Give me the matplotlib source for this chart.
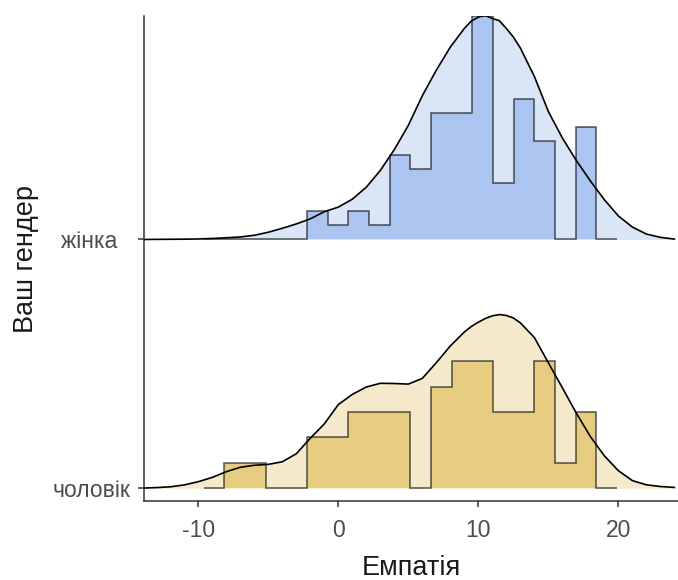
import numpy as np
import matplotlib
matplotlib.use("Agg")
import matplotlib.pyplot as plt

plt.rcParams['font.family'] = ['Liberation Sans', 'DejaVu Sans']
plt.rcParams['axes.unicode_minus'] = False

# groups, bottom to top
groups = ['чоловік', 'жінка  ']

# histogram bins (20 bins over the empathy range)
bin_lo = -9.62
bin_hi = 19.91
n_bins = 20

# counts per bin
counts_m = [0, 1, 1, 0, 0, 2, 2, 3, 3, 3, 0, 4, 5, 5, 3, 3, 5, 1, 3, 0]
counts_f = [0, 0, 0, 0, 0, 2, 1, 2, 1, 6, 5, 9, 9, 16, 4, 10, 7, 0, 8, 0]

# density curves, relative to the tallest ridge (peak = dens_peak)
dens_x = [-14, -13, -12, -11, -10, -9, -8, -7, -6, -5, -4, -3, -2, -1, 0, 1, 2, 3, 4,
          5, 6, 7, 8, 9, 9.5, 10, 10.5, 11, 11.5, 12, 12.5, 13, 14, 15, 16, 17, 18, 19,
          20, 21, 22, 23, 24]
dens_m = [0.2, 0.7, 1.5, 3.4, 6.6, 10.9, 16.6, 21.0, 23.0, 23.9, 26.5, 34.5, 50.0, 64.3,
          83.6, 93.7, 101.1, 104.8, 104.6, 104.0, 109.7, 125.4, 142.1, 156.0, 161.5, 165.8,
          169.5, 172.1, 173.4, 172.5, 170.0, 165.1, 150.5, 125.3, 100.3, 75.0, 51.7, 32.4,
          17.6, 7.7, 3.5, 1.8, 0.9]
dens_f = [0.0, 0.1, 0.2, 0.3, 0.5, 1.0, 1.7, 2.5, 4.2, 7.2, 11.2, 15.5, 20.6, 27.7, 32.3,
          40.2, 52.2, 68.9, 89.7, 113.9, 143.5, 169.0, 192.0, 210.6, 218.0, 221.9, 223.5,
          220.5, 218.3, 210.6, 202.0, 191.1, 162.7, 127.7, 101.3, 78.8, 58.4, 39.7, 23.5,
          12.4, 5.4, 2.1, 0.4]
dens_peak = 223.5

col_dens = ['#F4EACB', '#DAE5F7']
col_hist = ['#E6CC80', '#ABC4F0']
ridge_scale = 0.9

edges = np.linspace(bin_lo, bin_hi, n_bins + 1)
bw = edges[1] - edges[0]
hist_dens = [np.array(c) / (sum(c) * bw) for c in (counts_m, counts_f)]
hist_max = max(h.max() for h in hist_dens)

fig = plt.figure(figsize=(6.78, 5.8), dpi=100)
ax = fig.add_axes([0.2128, 0.1362, 0.7872, 0.8362])

for i, (hd, dn) in enumerate(zip(hist_dens, (dens_m, dens_f))):
    base = i + 1
    h = hd / hist_max * ridge_scale
    d = np.array(dn) / dens_peak * ridge_scale
    ax.fill_between(dens_x, base, base + d, color=col_dens[i], lw=0, zorder=1)
    ax.stairs(base + h, edges, baseline=base, fill=True, color=col_hist[i], lw=0, zorder=2)
    ax.stairs(base + h, edges, baseline=base, fill=False, color='black', alpha=0.65,
              lw=1.1, zorder=3)
    ax.plot(dens_x, base + d, color='black', lw=1.2, zorder=4)

ax.set_xlim(-13.86, 24.26)
ax.set_ylim(0.949, 2.898)
ax.set_xticks([-10, 0, 10, 20])
ax.set_yticks([1, 2])
ax.set_yticklabels(groups)

for s in ['top', 'right']:
    ax.spines[s].set_visible(False)
for s in ['left', 'bottom']:
    ax.spines[s].set_color('#333333')
    ax.spines[s].set_linewidth(1.1)
ax.tick_params(length=4, width=1.1, color='#333333', labelcolor='#4D4D4D',
               labelsize=16.5)
ax.tick_params(axis='x', pad=9)
ax.tick_params(axis='y', pad=6)

ax.set_xlabel('Емпатія', fontsize=19.5, color='#1A1A1A', labelpad=9)
ax.set_ylabel('Ваш гендер', fontsize=19.5, color='#1A1A1A', labelpad=10)

fig.savefig('out.png', dpi=100)
